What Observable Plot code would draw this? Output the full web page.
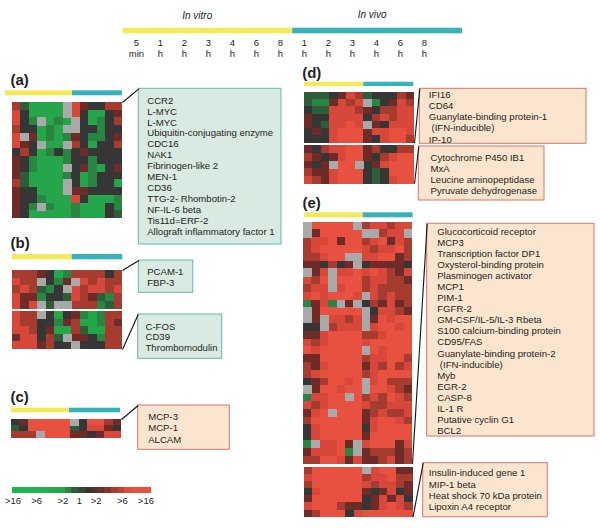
<!DOCTYPE html>
<html><head><meta charset="utf-8">
<script src="https://cdn.jsdelivr.net/npm/d3@7"></script>
<script src="https://cdn.jsdelivr.net/npm/@observablehq/plot@0.6"></script>
<style>html,body{margin:0;padding:0;background:#fff}#chart{width:600px;height:528px}</style>
</head><body><div id="chart"></div>
<script>
// ---------- DATA ----------
const conditions = ["In vitro", "In vivo"];
const timeLabels = ["5\nmin","1\nh","2\nh","3\nh","4\nh","6\nh","8\nh","1\nh","2\nh","3\nh","4\nh","6\nh","8\nh"];
const vitroColumns = 7;
// cell codes: 0..8 = log2 ratio -4..+4 (green = down, red = up), "." = no data
const panelA = ["631111.754466","741111.741145","742.121.41246","644121..44244","7.51212542245","754.11.641446","4641242454444","5421112442444","542111.452145","5311112412444","631111.412441","544111.554444","5442111741112","542.211211142","5411111211143"];
const genesA = ["CCR2","L-MYC","L-MYC","Ubiquitin-conjugating enzyme","CDC16","NAK1","Fibrinogen-like 2","MEN-1","CD36","TTG-2- Rhombotin-2","NF-IL-6 beta","Tis11d=ERF-2","Allograft inflammatory factor 1"];
const panelB1 = ["6665412666646","766.425.76766","676324.767767","7552443765326","757.3..666236"];
const genesB1 = ["PCAM-1","FBP-3"];
const panelB2 = ["766.414521266","7664425611265","7764511631166","577463.554266","7775644.44466"];
const genesB2 = ["C-FOS","CD39","Thrombomodulin"];
const panelC = ["4588888.48865","3488888347754","666.888554577"];
const genesC = ["MCP-3","MCP-1","ALCAM"];
const panelD1 = ["3334576344465","3225767.24576","4337776546677","5447777467677","5437787.54777","4547888577887","4447888547886"];
const genesD1 = ["IFI16","CD64","Guanylate-binding protein-1","\u00a0(IFN-inducible)","IP-10"];
const panelD2 = ["5467788564466","6545788546788","545.88.457888","6557888434888","7657888434788"];
const genesD2 = ["Cytochrome P450 IB1","MxA","Leucine aminopeptidase","Pyruvate dehydrogenase"];
const panelE1 = [".88888.677677",".588888..677.","6778588678576","6788888767786","66788..778856","554645.455554",".57.778787657","768.888677665","677.788676666","7878887.76766","2572.5.465756",".588888.47765",".5.7767.58788","44.6777.78878","5578888667888","7678888788888","8788888.87888","5588888677886","6578888576867","6788888678888","4568878.78666",".588788.88765","27788.8676876","7678888766777","578.888567667","6888888578876","4788888478888","4788888588888","2.7785.788857","577782.566656","6688757556756"];
const genesE1 = ["Glucocorticoid receptor","MCP3","Transcription factor DP1","Oxysterol-binding protein","Plasminogen activator","MCP1","PIM-1","FGFR-2","GM-CSF/IL-5/IL-3 Rbeta","S100 calcium-binding protein","CD95/FAS","Guanylate-binding protein-2","\u00a0(IFN-inducible)","Myb","EGR-2","CASP-8","IL-1 R","Putative cyclin G1","BCL2"];
const panelE2 = ["6888888.78855","7888888677866","6888888767765","4788888545745","5888888457574","7888655457876","5688847888888"];
const genesE2 = ["Insulin-induced gene 1","MIP-1 beta","Heat shock 70 kDa protein","Lipoxin A4 receptor"];
const legendLabels = [">16",">6",">2","1",">2",">6",">16"];
const legendLabelLog2 = [-4,-2.58,-1,0,1,2.58,4];
const legendSteps = [-4,-4,-4,-4,-4,-3.5,-3,-3,-2,-1,-0.5,0,0.5,1,1.5,2,2.5,3.5,4,4,4];

// ---------- STYLE / LAYOUT ----------
const colorDomain = [-4,-3,-2,-1,0,1,2,3,4];
const colorRange = ["#1fb44f","#26a64a","#2a8543","#2f5d39","#363636","#6e2b27","#a63b30","#d8483a","#e8513f"];
const missingColor = "#a9a9a9";
const yellow = "#f3ea5a", teal = "#39b1bb";
const font = "'Liberation Sans', Arial, Helvetica, sans-serif";
const ink = "#231f20";

const header = {x1:122.7, split:292.3, x2:462, y1:27.7, y2:33.3, labelX0:136, labelStep:24, labelY:47.2, condX:[196.7,371.7], condY:[15.5,14.5]};
const legend = {x1:11.7, x2:150.7, y1:486.7, y2:493.3, center:79, perUnit:16.6, labelY:500.5};

const panels = [
  {letter:"(a)", lx:10, ly:79.5, bar:{x1:5,split:72,x2:122,y1:90.3,y2:95.3}, groups:[
    {rows:panelA, genes:genesA, kind:"green", block:{x:12,y:102,w:110,h:116}, from:"top", box:{x1:138.3,x2:281,y1:88.3,y2:244,tx:146.7,ty:100,lh:10.97}}]},
  {letter:"(b)", lx:10, ly:242.5, bar:{x1:11.7,split:71.7,x2:122.3,y1:254,y2:259.3}, groups:[
    {rows:panelB1, genes:genesB1, kind:"green", block:{x:12,y:270,w:110,h:38.3}, from:"top", box:{x1:138.3,x2:192.7,y1:260,y2:292.3,tx:146.7,ty:271.7,lh:10.6}},
    {rows:panelB2, genes:genesB2, kind:"green", block:{x:12,y:311,w:110,h:38}, from:"bottom", box:{x1:137.7,x2:221.7,y1:314,y2:358.3,tx:145,ty:326,lh:10.85}}]},
  {letter:"(c)", lx:10, ly:396.5, bar:{x1:11,split:69,x2:120,y1:407.7,y2:412.3}, groups:[
    {rows:panelC, genes:genesC, kind:"peach", block:{x:11,y:419,w:110,h:18.3}, from:"top", box:{x1:137.7,x2:229.3,y1:405,y2:449.3,tx:147.7,ty:416.7,lh:11.2}}]},
  {letter:"(d)", lx:301.7, ly:72.5, bar:{x1:304,split:363.3,x2:413.3,y1:81.7,y2:86}, groups:[
    {rows:panelD1, genes:genesD1, kind:"peach", block:{x:304,y:91.7,w:110,h:51}, from:"bottom", box:{x1:419.3,x2:586,y1:88.3,y2:143.3,tx:428.3,ty:94,lh:11.25}},
    {rows:panelD2, genes:genesD2, kind:"peach", block:{x:304,y:145.3,w:110,h:38}, from:"bottom", box:{x1:418.3,x2:544,y1:146,y2:200,tx:430,ty:157.3,lh:11.1}}]},
  {letter:"(e)", lx:302, ly:202.5, bar:{x1:304,split:362.7,x2:412.7,y1:212.3,y2:217.3}, groups:[
    {rows:panelE1, genes:genesE1, kind:"peach", block:{x:303,y:221.7,w:109,h:241.7}, from:"bottom", box:{x1:426.7,x2:594,y1:223.3,y2:436,tx:436.7,ty:231,lh:11.09}},
    {rows:panelE2, genes:genesE2, kind:"peach", block:{x:303.5,y:466.7,w:109,h:50}, from:"bottom", box:{x1:422.7,x2:547.3,y1:462.7,y2:516.7,tx:428.3,ty:472.7,lh:11.33}}]}
];

// ---------- BUILD MARK DATA ----------
const cells = [], missing = [], bars = [], boxes = [], links = [], geneText = [], letters = [];
bars.push({cond:conditions[0], x1:header.x1, x2:header.split, y1:header.y1, y2:header.y2});
bars.push({cond:conditions[1], x1:header.split, x2:header.x2, y1:header.y1, y2:header.y2});
for (const p of panels) {
  letters.push({text:p.letter, x:p.lx, y:p.ly});
  bars.push({cond:conditions[0], x1:p.bar.x1, x2:p.bar.split, y1:p.bar.y1, y2:p.bar.y2});
  bars.push({cond:conditions[1], x1:p.bar.split, x2:p.bar.x2, y1:p.bar.y1, y2:p.bar.y2});
  for (const g of p.groups) {
    const b = g.block, nr = g.rows.length, nc = timeLabels.length;
    const cw = b.w / nc, ch = b.h / nr;
    g.rows.forEach((row, r) => {
      [...row].forEach((code, j) => {
        const d = {x1:b.x + j*cw, x2:b.x + (j+1)*cw + 0.4, y1:b.y + r*ch, y2:b.y + (r+1)*ch + 0.4,
                   time:timeLabels[j].replace("\n"," "), cond:conditions[j < vitroColumns ? 0 : 1]};
        if (code === ".") missing.push(d); else cells.push({...d, value:+code - 4});
      });
    });
    boxes.push({kind:g.kind, ...g.box});
    links.push({x1:b.x + b.w, y1:g.from === "top" ? b.y : b.y + b.h, x2:g.box.x1, y2:g.box.y1});
    g.genes.forEach((name, i) => geneText.push({text:name, x:g.box.tx, y:g.box.ty + i*g.box.lh}));
  }
}
const headerLabels = timeLabels.map((t, i) => ({text:t, x:header.labelX0 + i*header.labelStep, y:header.labelY}));
const condLabels = conditions.map((c, i) => ({text:c, x:header.condX[i], y:header.condY[i]}));
const lw = (legend.x2 - legend.x1) / legendSteps.length;
const legendCells = legendSteps.map((v, k) => ({value:v, x1:legend.x1 + k*lw, x2:legend.x1 + (k+1)*lw + 0.4, y1:legend.y1, y2:legend.y2}));
const legendText = legendLabels.map((t, i) => ({text:t, x:legend.center + legendLabelLog2[i]*legend.perUnit, y:legend.labelY}));

const R = {x1:"x1", x2:"x2", y1:"y1", y2:"y2"};
const chart = Plot.plot({
  width:600, height:528, margin:0,
  x:{domain:[0,600], range:[0,600], axis:null},
  y:{domain:[0,528], range:[0,528], axis:null},
  color:{type:"linear", domain:colorDomain, range:colorRange, interpolate:"rgb"},
  style:{background:"#ffffff", fontFamily:font, color:ink},
  marks:[
    Plot.rect(bars.filter(d => d.cond === conditions[0]), {...R, fill:yellow}),
    Plot.rect(bars.filter(d => d.cond === conditions[1]), {...R, fill:teal}),
    Plot.rect(cells, {...R, fill:"value", shapeRendering:"crispEdges"}),
    Plot.rect(missing, {...R, fill:missingColor, shapeRendering:"crispEdges"}),
    Plot.rect(legendCells, {...R, fill:"value", shapeRendering:"crispEdges"}),
    Plot.rect(boxes.filter(d => d.kind === "green"), {...R, fill:"#d9eae2", stroke:"#5fb9b0", strokeWidth:1}),
    Plot.rect(boxes.filter(d => d.kind === "peach"), {...R, fill:"#fce5cf", stroke:"#e2716c", strokeWidth:1}),
    Plot.link(links, {x1:"x1", y1:"y1", x2:"x2", y2:"y2", stroke:"#111", strokeWidth:1.1}),
    Plot.text(geneText, {x:"x", y:"y", text:"text", textAnchor:"start", fontSize:9.6, fill:ink}),
    Plot.text(headerLabels, {x:"x", y:"y", text:"text", fontSize:9.5, lineHeight:1.15, fill:ink}),
    Plot.text(condLabels, {x:"x", y:"y", text:"text", fontSize:10, fontStyle:"italic", fill:ink}),
    Plot.text(letters, {x:"x", y:"y", text:"text", textAnchor:"start", fontSize:15, fontWeight:"bold", fill:ink}),
    Plot.text(legendText, {x:"x", y:"y", text:"text", fontSize:9.5, fill:ink})
  ]
});
document.getElementById("chart").append(chart);
</script></body></html>
